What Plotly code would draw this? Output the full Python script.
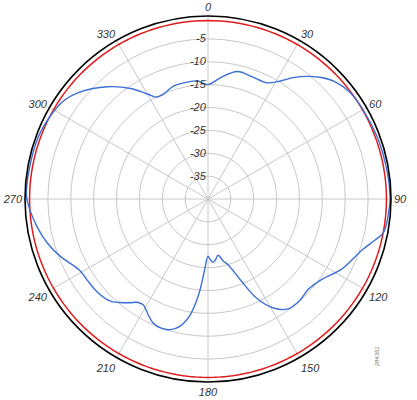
import numpy as np
import plotly.graph_objects as go

# Blue measured pattern (angle in degrees, clockwise from top; level in dB)
pattern_theta = [0, 6, 13, 20, 27, 31, 35, 39, 43, 47, 53, 60, 70, 80, 90,
                 94, 98, 101, 104, 108, 112, 118, 125, 132, 138, 144, 149,
                 154, 158, 163, 166, 170, 173, 175.5, 178, 180, 183, 185,
                 186.5, 189, 192.5, 196, 200, 204, 207.5, 211.5, 214.5, 217,
                 220.5, 224, 230, 236, 241, 249, 255, 261, 266.5, 271, 280,
                 290, 297, 304, 310, 318, 325, 330, 333, 337, 343, 350, 355, 360]
pattern_db = [-15.0, -13.3, -11.4, -11.6, -11.5, -10.0, -7.6, -5.5, -3.7, -2.3,
              -1.2, -0.9, -0.6, -0.4, -0.2, -0.4, -0.6, -1.0, -2.5, -4.4,
              -5.6, -7.1, -9.5, -10.5, -10.1, -10.3, -12.2, -16.0, -20.8,
              -25.0, -26.0, -27.5, -26.6, -26.1, -26.8, -27.5, -24.0, -20.1,
              -17.5, -14.1, -11.5, -10.3, -9.95, -10.4, -11.6, -12.9, -12.6,
              -11.6, -10.25, -9.05, -8.4, -8.2, -7.9, -5.3, -3.5, -2.1, -1.0,
              -0.3, -0.4, -0.5, -1.0, -1.8, -3.6, -7.0, -10.5, -13.5, -15.0,
              -15.1, -14.2, -14.05, -14.1, -15.0]

# Red reference ring level (dB)
ref_level = -1.0
ref_theta = list(np.arange(0, 361, 2))
ref_db = [ref_level] * len(ref_theta)

radial_ticks = [-35, -30, -25, -20, -15, -10, -5]
radial_labels = ["-35", "-30", "-25", "-20", "-15", "-10", "-5"]
angle_ticks = [0, 30, 60, 90, 120, 150, 180, 210, 240, 270, 300, 330]
angle_labels = [str(a) for a in angle_ticks]

font = dict(family="Liberation Sans, Arial, sans-serif", size=11,
            color="#333333", style="italic")

fig = go.Figure()
fig.add_trace(go.Scatterpolar(r=ref_db, theta=ref_theta, mode="lines",
                              line=dict(color="#e01b1b", width=1.5),
                              hoverinfo="skip"))
fig.add_trace(go.Scatterpolar(r=pattern_db, theta=pattern_theta, mode="lines",
                              line=dict(color="#3b6fd6", width=1.4,
                                        shape="spline", smoothing=1.0)))

fig.update_layout(
    width=417, height=400,
    margin=dict(l=25, r=26, t=16, b=18),
    paper_bgcolor="white",
    showlegend=False,
    font=font,
    polar=dict(
        bgcolor="white",
        radialaxis=dict(range=[-40, 0], tickvals=radial_ticks,
                        ticktext=radial_labels, angle=90, tickangle=90,
                        showline=False, ticks="", gridcolor="#c8c8c8",
                        gridwidth=1, tickfont=font, side="counterclockwise"),
        angularaxis=dict(direction="clockwise", rotation=90,
                         tickvals=angle_ticks, ticktext=angle_labels,
                         showline=True, linecolor="black", linewidth=1.6,
                         gridcolor="#c8c8c8", gridwidth=1, ticks="",
                         tickfont=font),
    ),
    annotations=[dict(text="284351", x=401 / 417, y=1 - 372 / 400,
                      xref="paper", yref="paper", xanchor="center",
                      yanchor="middle", showarrow=False, textangle=-90,
                      font=dict(size=6, color="#777777",
                                family="Liberation Sans, Arial, sans-serif"))],
)

fig.write_html("out.html",
               config={"displayModeBar": False},
               post_script="document.body.style.margin='0px';"
                           "document.body.style.overflow='hidden';")
